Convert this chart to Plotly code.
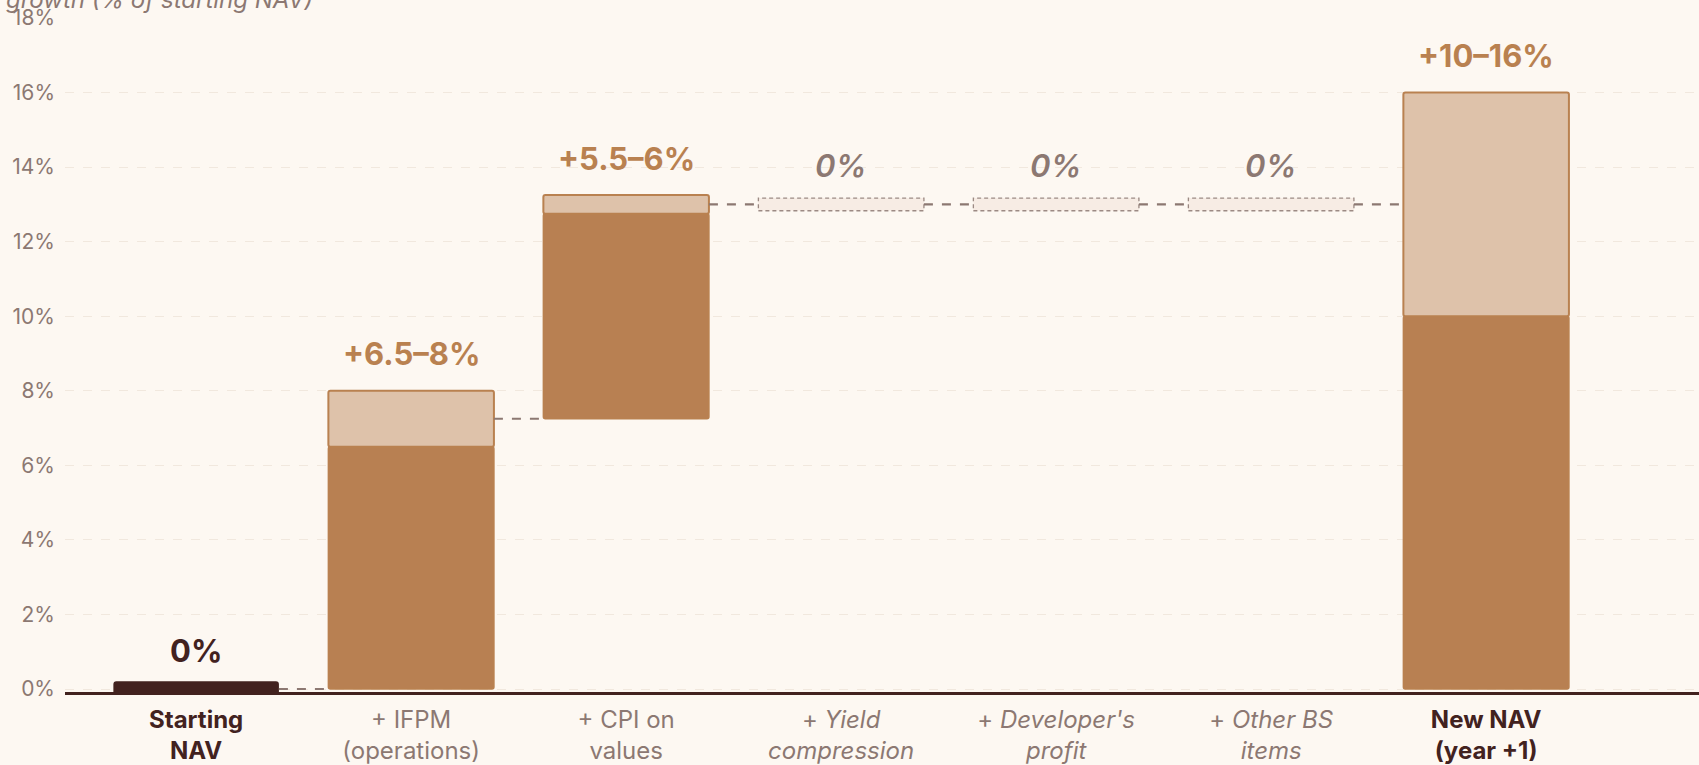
import plotly.graph_objects as go

# ---- data -------------------------------------------------------------
categories = ["Starting NAV", "+ IFPM (operations)", "+ CPI on values",
              "+ Yield compression", "+ Developer's profit", "+ Other BS items",
              "New NAV (year +1)"]
tick_labels = [
    "<span style='color:#42221f'><b>Starting<br>NAV</b></span>",
    "+ IFPM<br>(operations)",
    "+ CPI on<br>values",
    "+ <i>Yield</i><br><i>compression</i>",
    "+ <i>Developer's</i><br><i>profit</i>",
    "+ <i>Other BS</i><br><i>items</i>",
    "<span style='color:#42221f'><b>New NAV<br>(year +1)</b></span>",
]
kind = ["start", "step", "step", "zero", "zero", "zero", "total"]
low = [0.0, 6.5, 5.5, 0.0, 0.0, 0.0, 10.0]
high = [0.0, 8.0, 6.0, 0.0, 0.0, 0.0, 16.0]
value_labels = ["0%", "+6.5–8%", "+5.5–6%", "0%", "0%", "0%", "+10–16%"]
y_ticks = [0, 2, 4, 6, 8, 10, 12, 14, 16, 18]
y_tick_text = [f"{v}%" for v in y_ticks]

# ---- styling ----------------------------------------------------------
BG = "#fdf8f2"
DARK = "#42221f"
BROWN = "#b88052"
LIGHT = "#dec2aa"
EDGE = "#b98150"
GREY = "#8c7872"
GRID = "#f1e8de"
FONT = "Inter"
W = 0.77          # bar width in category units
STUB = 0.17       # half-height of the placeholder marks (percentage points)

# running waterfall bases (midpoint of each range carried forward)
bases = []
level = 0.0
for k, lo, hi in zip(kind, low, high):
    if k in ("start", "total"):
        bases.append(0.0)
    else:
        bases.append(level)
        level += (lo + hi) / 2

xs = list(range(len(categories)))
fig = go.Figure()

# lower (firm) part of each range
fig.add_trace(go.Bar(
    x=[x for x, k in zip(xs, kind) if k in ("step", "total")],
    y=[lo for lo, k in zip(low, kind) if k in ("step", "total")],
    base=[b for b, k in zip(bases, kind) if k in ("step", "total")],
    width=W, marker=dict(color=BROWN, line=dict(color=EDGE, width=1.5), cornerradius=2),
    hoverinfo="skip", showlegend=False,
))
# upper (uncertain) part of each range
fig.add_trace(go.Bar(
    x=[x for x, k in zip(xs, kind) if k in ("step", "total")],
    y=[hi - lo for lo, hi, k in zip(low, high, kind) if k in ("step", "total")],
    base=[b + lo for b, lo, k in zip(bases, low, kind) if k in ("step", "total")],
    width=W, marker=dict(color=LIGHT, line=dict(color=EDGE, width=2), cornerradius=2),
    hoverinfo="skip", showlegend=False,
))
# starting point marker
fig.add_trace(go.Bar(
    x=[x for x, k in zip(xs, kind) if k == "start"],
    y=[2 * STUB + 0.02 for k in kind if k == "start"],
    base=[b - STUB + 0.02 for b, k in zip(bases, kind) if k == "start"],
    width=W, marker=dict(color=DARK, line=dict(width=0), cornerradius=3),
    hoverinfo="skip", showlegend=False,
))

shapes = []
# dashed placeholder boxes for zero-contribution items
for x, k, b in zip(xs, kind, bases):
    if k == "zero":
        shapes.append(dict(type="rect", xref="x", yref="y",
                           x0=x - W / 2, x1=x + W / 2, y0=b - STUB, y1=b + STUB,
                           fillcolor="#f7ece4", line=dict(color="#9c8a84", width=1.3, dash="4px,3px"),
                           layer="above"))

# connectors between consecutive steps
for i in range(len(xs) - 1):
    if kind[i] == "start":
        y_c = bases[i]
    else:
        y_c = bases[i] + (low[i] + high[i]) / 2
    shapes.append(dict(type="line", xref="x", yref="y",
                       x0=xs[i] + W / 2, x1=xs[i + 1] - W / 2, y0=y_c, y1=y_c,
                       line=dict(color=GREY, width=2.2, dash="dash"), layer="above"))

fig.update_layout(shapes=shapes)

# value labels above each mark
annotations = []
for x, k, b, hi, txt in zip(xs, kind, bases, high, value_labels):
    if k == "zero":
        top, color, t, wt, dy = b + STUB, GREY, f"<i>{txt}</i>", 600, 33
    elif k == "start":
        top, color, t, wt, dy = b + STUB, DARK, txt, 700, 32
    else:
        top, color, t, wt, dy = b + hi, EDGE, txt, 700, 37
    annotations.append(dict(x=x, y=top, xref="x", yref="y", text=t, showarrow=False,
                            yanchor="middle", yshift=dy,
                            font=dict(family=FONT, size=31, color=color, weight=wt)))

annotations.append(dict(xref="paper", yref="paper", x=-0.0398, y=1, xanchor="left",
                        yanchor="bottom", xshift=4, yshift=2, showarrow=False,
                        text="<i>growth (% of starting NAV)</i>",
                        font=dict(family=FONT, size=24, color=GREY)))

fig.update_layout(
    annotations=annotations,
    barmode="overlay",
    width=1699, height=765,
    margin=dict(l=65, r=0, t=18, b=73),
    paper_bgcolor=BG, plot_bgcolor=BG,
    font=dict(family=FONT, color=GREY),
    xaxis=dict(range=[-0.61, 6.99], tickmode="array", tickvals=xs, ticktext=tick_labels,
               tickfont=dict(family=FONT, size=24, color=GREY),
               showgrid=False, zeroline=False, showline=True, linecolor=DARK, linewidth=3,
               ticks="", ticklabelstandoff=4, fixedrange=True),
    yaxis=dict(range=[-0.08, 18], tickmode="array", tickvals=y_ticks, ticktext=y_tick_text,
               tickfont=dict(family=FONT, size=21, color=GREY),
               showgrid=True, gridcolor=GRID, griddash="dash", gridwidth=1,
               zeroline=False, showline=False, ticks="", ticklabelstandoff=9),
)

fig.write_html("out.html")
